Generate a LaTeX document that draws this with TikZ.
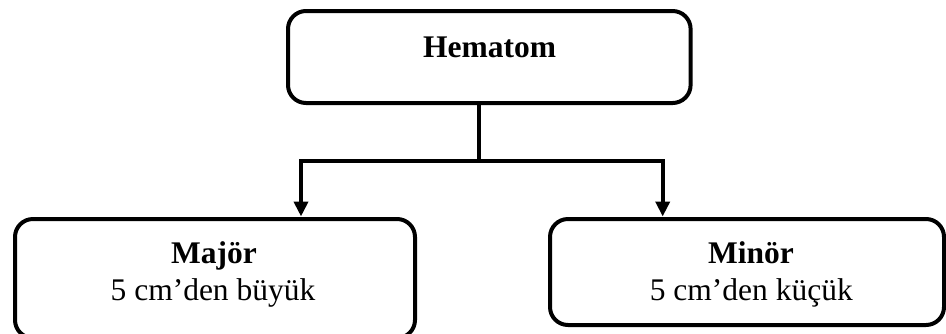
\documentclass[tikz,border=0pt]{standalone}
\usepackage{fontspec}
\setmainfont{Liberation Serif}
\usetikzlibrary{arrows.meta}
\begin{document}
\begin{tikzpicture}[x=0.5pt,y=-0.5pt,
  box/.style={draw, line width=2pt, rounded corners=9pt, inner sep=0pt},
  lbl/.style={anchor=base, inner sep=0pt, font=\fontsize{15.75pt}{18.5pt}\selectfont},
  conn/.style={line width=1.9pt},
  arr/.style={line width=1.9pt, -{Triangle[length=7.5pt,width=7pt]}}]
\useasboundingbox (0,0) rectangle (946,333);
\begin{scope}
\clip (0,0) rectangle (946,333);
\node[box, minimum width=201.3pt, minimum height=46pt] (top) at (489.3,57) {};
\node[box, minimum width=200pt, minimum height=59.5pt] (left) at (215,278.5) {};
\node[box, minimum width=197pt, minimum height=53pt] (right) at (747,272) {};
\end{scope}
\node[lbl, font=\fontsize{15.75pt}{18.5pt}\selectfont\bfseries] (t1) at (489.5,57) {Hematom};
\node[lbl, font=\fontsize{15.75pt}{18.5pt}\selectfont\bfseries] (l1) at (214,263.3) {Majör};
\node[lbl] (l2) at (213,300.5) {5 cm’den büyük};
\node[lbl, font=\fontsize{15.75pt}{18.5pt}\selectfont\bfseries] (r1) at (751,263.3) {Minör};
\node[lbl] (r2) at (751.3,300.5) {5 cm’den küçük};
\coordinate (j) at (479.3,160.7);
\coordinate (lt) at (301,160.7);
\coordinate (rt) at (662.7,160.7);
\coordinate (la) at (301,216.5);
\coordinate (ra) at (662.7,216.5);
\draw[conn] (top.south -| j) -- (j);
\draw[arr] (j) -- (lt) -- (la);
\draw[arr] (j) -- (rt) -- (ra);
\end{tikzpicture}
\end{document}
